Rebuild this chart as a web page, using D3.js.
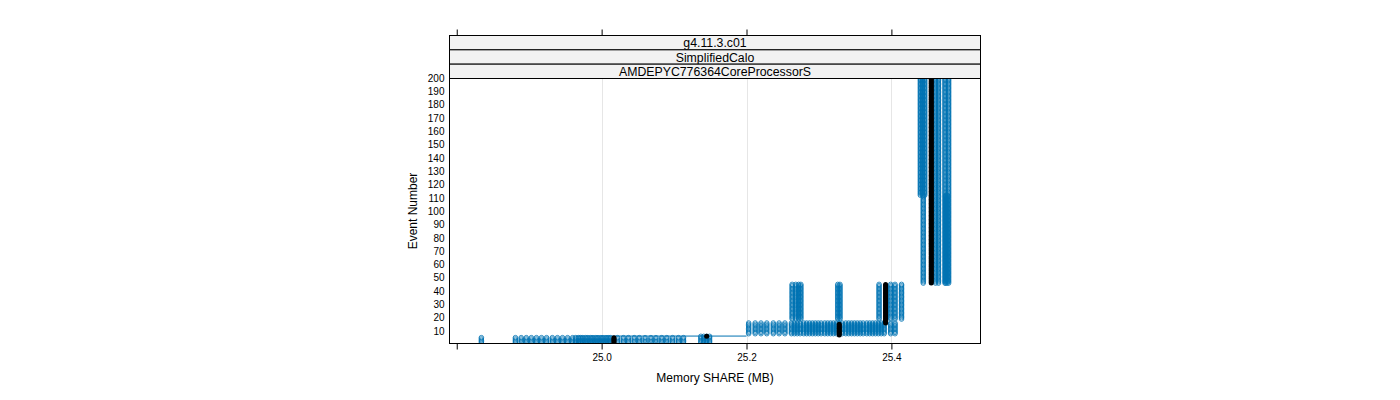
<!DOCTYPE html>
<html><head><meta charset="utf-8">
<script src="https://cdn.jsdelivr.net/npm/d3@7"></script>
<style>
body{margin:0;background:#fff}
svg{display:block}
text{font-family:"Liberation Sans",Arial,Helvetica,sans-serif;fill:#000}
</style>
</head><body>
<svg id="chart" width="1400" height="400"></svg>
<script>
// ---------------- data ----------------
const stripLabels = ["g4.11.3.c01", "SimplifiedCalo", "AMDEPYC776364CoreProcessorS"];
const xLimits = [24.790, 25.523];
const yLimits = [1, 200];
const xTicks = [24.8, 25.0, 25.2, 25.4];
const xTickLabels = ["", "25.0", "25.2", "25.4"];
const xGrid = [25.0, 25.2, 25.4];
const yTicks = [10,20,30,40,50,60,70,80,90,100,110,120,130,140,150,160,170,180,190,200];
const xTitle = "Memory SHARE (MB)";
const yTitle = "Event Number";

// blue runs: memory value of each run during an event range
const earlyEvents = [1, 5];
const earlyMemory = [24.834,
  24.881,24.889,24.896,24.903,24.910,24.917,24.924,24.932,24.939,24.946,24.953,24.960,
  24.964,24.968,24.971,24.974,24.978,24.981,24.985,24.988,24.992,24.995,24.999,25.002,25.006,25.009,25.012,
  25.022,25.030,25.037,25.045,25.052,25.060,25.068,25.075,25.083,25.090,25.098,25.106,25.113];
const lateStartEvents = [1, 6];
const lateStartMemory = [25.137, 25.141, 25.145, 25.149];
const warmupEvents = [8, 16];
const warmupMemory = [25.203,25.212,25.220,25.228,25.237,25.245,25.253,
  25.262,25.266,25.270,25.274,25.279,25.283,25.287,25.291,25.295,25.299,25.303,25.308,25.312,25.316,
  25.320,25.324,25.328,25.332,25.337,25.341,25.345,25.349,25.353,25.357,25.361,25.366,25.370,25.374,
  25.378,25.382,25.386,25.390,25.399,25.405];
const middleEvents = [19, 45];
const middleMemory = [25.263,25.268,25.272,25.275,25.326,25.329,25.383,25.399,25.405,25.414];
const steadyEvents = [46, 200];
const steadyMemory = [25.461,25.465,25.474,25.479];
const steadyEarlyEvents = [46, 112];
const steadyEarlyMemory = [25.444,25.475,25.477];
const steadyLateEvents = [112, 200];
const steadyLateMemory = [25.440,25.443,25.446];

// highlighted (black) run
const refEventFrom = [1, 6, 7, 16, 46];
const refEventTo   = [5, 6, 15, 45, 200];
const refMemory    = [25.017, 25.145, 25.328, 25.392, 25.455];

// connecting trace
const traceMemory = [24.964, 25.200];
const traceEvent  = [6.2, 6.2];

// ---------------- layout ----------------
const P = {left: 449.5, right: 980.5, top: 78.5, bottom: 343.5};
const stripTop = 35.5;
const blue = "#0072B2";

const svg = d3.select("#chart");
const x = d3.scaleLinear().domain(xLimits).range([P.left, P.right]);
const y = d3.scaleLinear().domain(yLimits).range([P.bottom - 0.5, P.top - 0.5]);

svg.append("defs").append("clipPath").attr("id", "pclip")
  .append("rect").attr("x", P.left).attr("y", P.top).attr("width", P.right - P.left).attr("height", P.bottom - P.top);

// grid
svg.append("g").selectAll("line").data(xGrid).join("line")
  .attr("x1", d => Math.round(x(d)) + 0.5).attr("x2", d => Math.round(x(d)) + 0.5)
  .attr("y1", P.top).attr("y2", P.bottom)
  .attr("stroke", "#e6e6e6").attr("stroke-width", 1);

// expand runs into points
function expand(range, mems) {
  const pts = [];
  mems.forEach(m => { for (let e = range[0]; e <= range[1]; e++) pts.push([m, e]); });
  return pts;
}
const bluePts = [].concat(
  expand(earlyEvents, earlyMemory),
  expand(lateStartEvents, lateStartMemory),
  expand(warmupEvents, warmupMemory),
  expand(middleEvents, middleMemory),
  expand(steadyEvents, steadyMemory),
  expand(steadyEarlyEvents, steadyEarlyMemory),
  expand(steadyLateEvents, steadyLateMemory)
);
const refPts = [];
refMemory.forEach((m, i) => { for (let e = refEventFrom[i]; e <= refEventTo[i]; e++) refPts.push([m, e]); });

const plot = svg.append("g").attr("clip-path", "url(#pclip)");

plot.append("g").selectAll("circle").data(bluePts).join("circle")
  .attr("cx", d => x(d[0])).attr("cy", d => y(d[1])).attr("r", 2.3)
  .attr("fill", "none").attr("stroke", blue).attr("stroke-width", 0.8);

plot.append("path")
  .datum(traceMemory.map((m, i) => [m, traceEvent[i]]))
  .attr("d", d3.line().x(d => x(d[0])).y(d => y(d[1])))
  .attr("fill", "none").attr("stroke", blue).attr("stroke-width", 1);

plot.append("g").selectAll("circle").data(refPts).join("circle")
  .attr("cx", d => x(d[0])).attr("cy", d => y(d[1])).attr("r", 2.5)
  .attr("fill", "#000");

// panel border
svg.append("rect").attr("x", P.left).attr("y", P.top).attr("width", P.right - P.left).attr("height", P.bottom - P.top)
  .attr("fill", "none").attr("stroke", "#000").attr("stroke-width", 1);

// strips
const stripH = (P.top - stripTop) / stripLabels.length;
const strips = svg.append("g");
stripLabels.forEach((lab, i) => {
  const y0 = stripTop + i * stripH;
  strips.append("rect").attr("x", P.left).attr("y", y0).attr("width", P.right - P.left).attr("height", stripH)
    .attr("fill", "#f2f2f2").attr("stroke", "#000").attr("stroke-width", 1);
  strips.append("text").attr("x", (P.left + P.right) / 2).attr("y", y0 + stripH / 2 + 0.5)
    .attr("text-anchor", "middle").attr("dominant-baseline", "central").attr("font-size", 12.3).text(lab);
});

// bottom axis
const xAxisB = d3.axisBottom(x).tickValues(xTicks).tickSize(6).tickPadding(4)
  .tickFormat((d, i) => xTickLabels[i]);
const gB = svg.append("g").attr("transform", `translate(0,${P.bottom})`).call(xAxisB);
gB.select(".domain").remove();
gB.selectAll("text").attr("font-size", 10).style("font-family", "Liberation Sans, Arial, sans-serif");

// top axis (ticks only)
const xAxisT = d3.axisTop(x).tickValues(xTicks).tickSize(6).tickFormat("");
const gT = svg.append("g").attr("transform", `translate(0,${stripTop})`).call(xAxisT);
gT.select(".domain").remove();

// left axis labels
const yAxis = d3.axisLeft(y).tickValues(yTicks).tickSize(0).tickPadding(5);
const gL = svg.append("g").attr("transform", `translate(${P.left},0)`).call(yAxis);
gL.select(".domain").remove();
gL.selectAll("text").attr("font-size", 10).style("font-family", "Liberation Sans, Arial, sans-serif");

// titles
svg.append("text").attr("x", (P.left + P.right) / 2).attr("y", 382)
  .attr("text-anchor", "middle").attr("font-size", 12).text(xTitle);
svg.append("text").attr("transform", `translate(417,${(P.top + P.bottom) / 2}) rotate(-90)`)
  .attr("text-anchor", "middle").attr("font-size", 12).text(yTitle);
</script>
</body></html>
